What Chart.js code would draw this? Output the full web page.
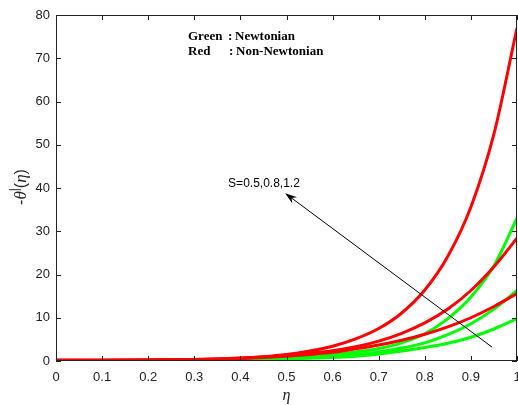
<html>
<head>
<title>Heat transfer rate</title>
<script src="https://cdn.jsdelivr.net/npm/chart.js@4.4.1/dist/chart.umd.min.js"></script>
<style>
  body { margin: 0; background: #fff; }
  #wrap { width: 518px; height: 405px; }
</style>
</head>
<body>
<div id="wrap"><canvas id="chart"></canvas></div>
<script>
// eta positions the curves were read at
const eta = [0, 0.1, 0.2, 0.3, 0.4, 0.45, 0.5, 0.55, 0.6, 0.65, 0.7, 0.75, 0.8, 0.85, 0.9, 0.95, 1];

// red : non-newtonian
const red1 = [0.2, 0.2, 0.25, 0.35, 0.7, 1.0, 1.5, 2.3, 3.4, 5.1, 7.5, 11.1, 16.4, 24.2, 35.6, 52.5, 77];
const red2 = [0.2, 0.2, 0.25, 0.35, 0.65, 0.9, 1.3, 1.8, 2.4, 3.3, 4.6, 6.4, 8.8, 12, 16.3, 21.8, 28.4];
const red3 = [0.2, 0.2, 0.25, 0.3, 0.6, 0.8, 1.1, 1.5, 2.0, 2.8, 3.7, 4.8, 6.2, 7.9, 10.0, 12.6, 15.6];

// green : newtonian
const green1 = [0.1, 0.1, 0.12, 0.2, 0.4, 0.55, 0.8, 1.1, 1.5, 2.1, 2.9, 4.2, 6.3, 9.8, 14.8, 22, 33];
const green2 = [0.1, 0.1, 0.12, 0.2, 0.35, 0.45, 0.6, 0.8, 1.0, 1.5, 2.1, 3.0, 4.2, 6.1, 8.6, 12, 16.3];
const green3 = [0.1, 0.1, 0.1, 0.15, 0.3, 0.4, 0.5, 0.65, 0.8, 1.1, 1.6, 2.3, 3.1, 4.1, 5.5, 7.4, 9.8];

// annotation arrow in data units (tail -> head)
const arrowFrom = [0.946, 3.2];
const arrowTo = [0.497, 38.8];
const arrowText = 'S=0.5,0.8,1.2';

const pts = ys => eta.map((x, i) => ({x: x, y: ys[i]}));

const line = (ys, col) => ({
    data: pts(ys),
    borderColor: col,
    borderWidth: 3,
    pointRadius: 0,
    fill: false,
    cubicInterpolationMode: 'monotone'
});

// box, inward ticks, titles and the arrow note
const decor = {
    id: 'decor',
    afterDraw(chart) {
        const ctx = chart.ctx;
        const a = chart.chartArea;
        const xs = chart.scales.x, ys = chart.scales.y;
        ctx.save();
        ctx.strokeStyle = '#222';
        ctx.lineWidth = 1;
        ctx.strokeRect(a.left + 0.5, a.top + 0.5, a.right - a.left - 1, a.bottom - a.top - 1);
        ctx.beginPath();
        for (const t of xs.ticks) {
            const px = Math.round(xs.getPixelForValue(t.value)) + 0.5;
            ctx.moveTo(px, a.bottom); ctx.lineTo(px, a.bottom - 5);
            ctx.moveTo(px, a.top); ctx.lineTo(px, a.top + 5);
        }
        for (const t of ys.ticks) {
            const py = Math.round(ys.getPixelForValue(t.value)) + 0.5;
            ctx.moveTo(a.left, py); ctx.lineTo(a.left + 5, py);
            ctx.moveTo(a.right, py); ctx.lineTo(a.right - 5, py);
        }
        ctx.stroke();

        // arrow
        const x0 = xs.getPixelForValue(arrowFrom[0]), y0 = ys.getPixelForValue(arrowFrom[1]);
        const x1 = xs.getPixelForValue(arrowTo[0]), y1 = ys.getPixelForValue(arrowTo[1]);
        const ang = Math.atan2(y1 - y0, x1 - x0);
        ctx.strokeStyle = '#000';
        ctx.beginPath();
        ctx.moveTo(x0, y0); ctx.lineTo(x1 - 6 * Math.cos(ang), y1 - 6 * Math.sin(ang));
        ctx.stroke();
        ctx.fillStyle = '#000';
        ctx.beginPath();
        ctx.moveTo(x1, y1);
        ctx.lineTo(x1 - 12 * Math.cos(ang) + 4 * Math.sin(ang), y1 - 12 * Math.sin(ang) - 4 * Math.cos(ang));
        ctx.lineTo(x1 - 8 * Math.cos(ang), y1 - 8 * Math.sin(ang));
        ctx.lineTo(x1 - 12 * Math.cos(ang) - 4 * Math.sin(ang), y1 - 12 * Math.sin(ang) + 4 * Math.cos(ang));
        ctx.closePath();
        ctx.fill();

        ctx.font = '12px "Liberation Sans", Arial, sans-serif';
        ctx.textBaseline = 'alphabetic';
        ctx.textAlign = 'left';
        ctx.fillText(arrowText, x1 - 57, y1 - 6);

        // colour key
        ctx.font = 'bold 13px "Liberation Serif", "Times New Roman", serif';
        ctx.fillText('Green', 188, 40);
        ctx.fillText(':', 228, 40);
        ctx.fillText('Newtonian', 235, 40);
        ctx.fillText('Red', 188, 55);
        ctx.fillText(':', 229, 55);
        ctx.fillText('Non-Newtonian', 236, 55);

        // x title
        ctx.textAlign = 'center';
        ctx.textBaseline = 'middle';
        ctx.fillStyle = '#222';
        ctx.font = 'italic 16px "Liberation Serif", serif';
        ctx.fillText('\u03b7', (a.left + a.right) / 2, 396);

        // y title  -θ'(η)
        ctx.translate(22, (a.top + a.bottom) / 2 - 1);
        ctx.rotate(-Math.PI / 2);
        const parts = [
            ['-', '16px "Liberation Sans", sans-serif', 0],
            ['\u03b8', 'italic 17px "Liberation Serif", serif', 0],
            ['|', '12px "Liberation Sans", sans-serif', -7],
            ['(', '16px "Liberation Sans", sans-serif', 0],
            ['\u03b7', 'italic 17px "Liberation Serif", serif', 0],
            [')', '16px "Liberation Sans", sans-serif', 0]
        ];
        let w = 0;
        for (const p of parts) { ctx.font = p[1]; w += ctx.measureText(p[0]).width; }
        let cx = -w / 2;
        ctx.textAlign = 'left';
        for (const p of parts) {
            ctx.font = p[1];
            ctx.fillText(p[0], cx, p[2]);
            cx += ctx.measureText(p[0]).width;
        }
        ctx.restore();
    }
};

new Chart(document.getElementById('chart'), {
    type: 'line',
    data: {
        datasets: [
            line(red1, '#ff0000'), line(red2, '#ff0000'), line(red3, '#ff0000'),
            line(green1, '#00ff00'), line(green2, '#00ff00'), line(green3, '#00ff00')
        ]
    },
    options: {
        responsive: true,
        maintainAspectRatio: false,
        animation: false,
        events: [],
        layout: { padding: { top: 15, right: 1, left: 0, bottom: 0 } },
        plugins: { legend: { display: false }, tooltip: { enabled: false } },
        scales: {
            x: {
                type: 'linear', min: 0, max: 1,
                grid: { display: false, drawTicks: false },
                border: { display: false },
                ticks: { stepSize: 0.1, padding: 9, maxRotation: 0, color: '#222',
                         font: { family: '"Liberation Sans", Arial, sans-serif', size: 13 },
                         callback: v => String(+v.toFixed(1)) },
                afterFit: s => { s.height = 44; s.paddingLeft = 0; s.paddingRight = 0; }
            },
            y: {
                min: 0, max: 80,
                grid: { display: false, drawTicks: false },
                border: { display: false },
                ticks: { stepSize: 10, padding: 6, color: '#222',
                         font: { family: '"Liberation Sans", Arial, sans-serif', size: 13 } },
                afterFit: s => { s.width = 56; s.paddingTop = 0; s.paddingBottom = 0; }
            }
        }
    },
    plugins: [decor]
});
</script>
</body>
</html>
